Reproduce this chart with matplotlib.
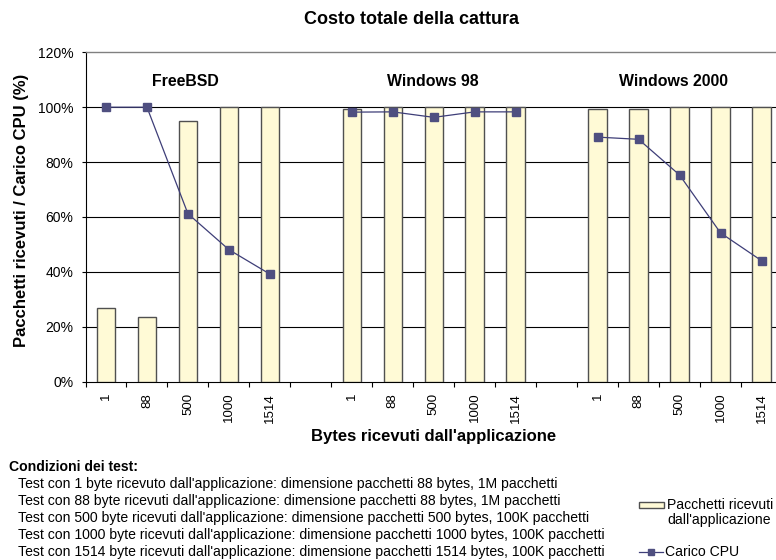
import matplotlib
matplotlib.use("Agg")
import matplotlib.pyplot as plt
import numpy as np
from matplotlib.lines import Line2D
from matplotlib.patches import Rectangle

plt.rcParams['font.family'] = ['Liberation Sans', 'DejaVu Sans']

groups = ["FreeBSD", "Windows 98", "Windows 2000"]
sizes = ["1", "88", "500", "1000", "1514"]
pacchetti = {
    "FreeBSD": [27.0, 23.4, 94.9, 100, 100],
    "Windows 98": [99.3, 100, 100, 100, 100],
    "Windows 2000": [99.2, 99.2, 100, 100, 100],
}
cpu = {
    "FreeBSD": [100, 100, 61.2, 48.1, 39.2],
    "Windows 98": [98.2, 98.3, 96.3, 98.3, 98.3],
    "Windows 2000": [89.1, 88.3, 75.3, 54.2, 44.1],
}
conditions = [
    "Test con 1 byte ricevuto dall'applicazione: dimensione pacchetti 88 bytes, 1M pacchetti",
    "Test con 88 byte ricevuti dall'applicazione: dimensione pacchetti 88 bytes, 1M pacchetti",
    "Test con 500 byte ricevuti dall'applicazione: dimensione pacchetti 500 bytes, 100K pacchetti",
    "Test con 1000 byte ricevuti dall'applicazione: dimensione pacchetti 1000 bytes, 100K pacchetti",
    "Test con 1514 byte ricevuti dall'applicazione: dimensione pacchetti 1514 bytes, 100K pacchetti",
]
legend_labels = ["Pacchetti ricevuti\ndall'applicazione", "Carico CPU"]

W, H = 776, 560
fig = plt.figure(figsize=(W / 100, H / 100), dpi=100)
slot = 40.97
left = 85.5
nslots = len(groups) * (len(sizes) + 1) - 1
ax = fig.add_axes([left / W, (H - 381.7) / H, nslots * slot / W, 329.4 / H])

bar_color = "#FFFAD6"
bar_edge = "#505050"
line_color = "#3E3E78"
marker_color = "#4F4F80"

def fx(px):
    return px / W

def fy(py):
    return 1 - py / H

group_label_x = [185.5, 432.5, 673.5]
tick_pos = []
tick_lab = []
for gi, g in enumerate(groups):
    x0 = gi * (len(sizes) + 1)
    xs = np.arange(len(sizes)) + x0
    ax.bar(xs, pacchetti[g], width=0.45, color=bar_color, edgecolor=bar_edge,
           linewidth=1.0, zorder=3)
    ax.plot(xs, cpu[g], color=line_color, linewidth=0.9, marker="s",
            markersize=6, markerfacecolor=marker_color, markeredgecolor=marker_color,
            zorder=4)
    tick_pos.extend(xs)
    tick_lab.extend(sizes)
    fig.text(fx(group_label_x[gi]), fy(81), g, ha="center", va="center",
             fontsize=11.4, fontweight="bold")

ax.set_xlim(-0.5, nslots - 0.5)
ax.set_ylim(0, 120)
ax.set_yticks(np.arange(0, 121, 20))
ax.set_yticklabels([f"{v}%" for v in range(0, 121, 20)], fontsize=10)
ax.set_xticks(tick_pos)
ax.set_xticklabels(tick_lab, rotation=90, fontsize=9.5)
ax.tick_params(axis="x", which="major", length=0, pad=8)
ax.set_xticks(np.arange(-0.5, nslots, 1), minor=True)
ax.tick_params(axis="x", which="minor", length=3.6, width=0.8, direction="out")
ax.tick_params(axis="y", length=2.9, width=0.8, direction="out", pad=5.8)

for v in range(20, 101, 20):
    ax.axhline(v, color="black", linewidth=0.8, zorder=1)
ax.spines["right"].set_visible(False)
ax.spines["top"].set_color("#808080")
ax.spines["top"].set_linewidth(1.0)
ax.spines["left"].set_linewidth(0.8)
ax.spines["bottom"].set_linewidth(0.8)

fig.text(fx(411), fy(20), "Costo totale della cattura", ha="center", va="center",
         fontsize=13, fontweight="bold")
fig.text(fx(21.5), fy(210), "Pacchetti ricevuti / Carico CPU (%)", ha="center",
         va="center", rotation=90, fontsize=12, fontweight="bold")
fig.text(fx(434), fy(437), "Bytes ricevuti dall'applicazione", ha="center",
         va="center", fontsize=12, fontweight="bold")
fig.text(fx(9), fy(467), "Condizioni dei test:", ha="left", va="center",
         fontsize=10.1, fontweight="bold")
for i, line in enumerate(conditions):
    fig.text(fx(18), fy(484 + 17 * i), line, ha="left", va="center", fontsize=10.1)

# legend
fig.add_artist(Rectangle((fx(639), fy(508)), fx(664) - fx(639), fy(502) - fy(508),
                         facecolor=bar_color, edgecolor=bar_edge, linewidth=1.0,
                         transform=fig.transFigure))
fig.text(fx(667), fy(512.5), legend_labels[0], ha="left", va="center", fontsize=10.1,
         linespacing=1.05)
fig.add_artist(Line2D([fx(639), fx(663)], [fy(552), fy(552)], color=line_color,
                      linewidth=0.9, transform=fig.transFigure))
fig.add_artist(Line2D([fx(651)], [fy(552)], marker="s", markersize=5,
                      markerfacecolor=marker_color, markeredgecolor=marker_color,
                      linestyle="none", transform=fig.transFigure))
fig.text(fx(665), fy(552), legend_labels[1], ha="left", va="center", fontsize=10.1)

fig.savefig("out.png", dpi=100)
